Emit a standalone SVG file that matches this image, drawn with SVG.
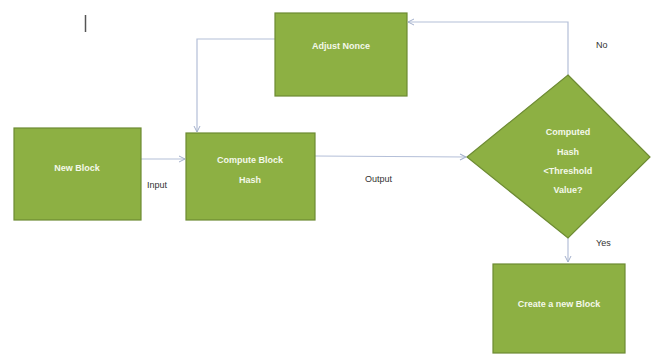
<svg xmlns="http://www.w3.org/2000/svg" width="653" height="356" viewBox="0 0 653 356">
  <style>
    .box { fill: #8db043; stroke: #6d8b33; stroke-width: 1.2; }
    .nt { fill: #f4f8ea; font-family: "Liberation Sans", Arial, sans-serif; font-size: 9px; font-weight: bold; text-anchor: middle; }
    .lbl { fill: #333333; font-family: "Liberation Sans", Arial, sans-serif; font-size: 9px; }
    .conn { fill: none; stroke: #b4bfd8; stroke-width: 1.2; }
  </style>
  <defs>
    <marker id="arrow" markerWidth="8" markerHeight="8" refX="7" refY="4" orient="auto" markerUnits="userSpaceOnUse">
      <path d="M1,1 L7,4 L1,7" fill="none" stroke="#a3b0cc" stroke-width="1"/>
    </marker>
  </defs>
  <rect width="653" height="356" fill="#ffffff"/>

  <!-- stray cursor mark -->
  <line x1="85.5" y1="15" x2="85.5" y2="32" stroke="#555555" stroke-width="1.5"/>

  <g id="connectors">
    <!-- new block to compute -->
    <path class="conn" d="M141,159 L185,159" marker-end="url(#arrow)"/>
    <!-- compute to decision -->
    <path class="conn" d="M315,156 L466,157" marker-end="url(#arrow)"/>
    <!-- decision "No" back to adjust nonce -->
    <path class="conn" d="M568,75 L568,22 L408,22" marker-end="url(#arrow)"/>
    <!-- adjust nonce to compute -->
    <path class="conn" d="M275,39 L197,39 L197,132" marker-end="url(#arrow)"/>
    <!-- decision "Yes" to create block -->
    <path class="conn" d="M568,238 L568,262" marker-end="url(#arrow)"/>
  </g>

  <g id="adjust-nonce">
    <rect class="box" x="275" y="13" width="132" height="83"/>
    <text class="nt" x="341" y="49">Adjust Nonce</text>
  </g>

  <g id="new-block">
    <rect class="box" x="14" y="128" width="127" height="92"/>
    <text class="nt" x="77" y="171">New Block</text>
  </g>

  <g id="compute-hash">
    <rect class="box" x="186" y="133" width="129" height="87"/>
    <text class="nt" x="250" y="163">Compute Block</text>
    <text class="nt" x="250" y="183">Hash</text>
  </g>

  <g id="decision">
    <polygon class="box" points="568,75 650,157 568,238 467,157"/>
    <text class="nt" x="568" y="135">Computed</text>
    <text class="nt" x="568" y="155">Hash</text>
    <text class="nt" x="568" y="174">&lt;Threshold</text>
    <text class="nt" x="568" y="193">Value?</text>
  </g>

  <g id="create-block">
    <rect class="box" x="493" y="264" width="132" height="89"/>
    <text class="nt" x="559" y="307">Create a new Block</text>
  </g>

  <g id="labels">
    <text class="lbl" x="147" y="188">Input</text>
    <text class="lbl" x="365" y="182">Output</text>
    <text class="lbl" x="596" y="48">No</text>
    <text class="lbl" x="596" y="246">Yes</text>
  </g>
</svg>
